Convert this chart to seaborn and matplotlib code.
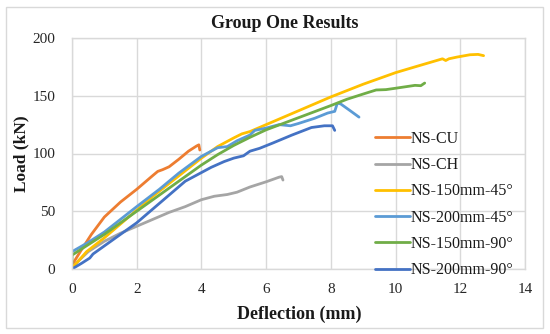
import numpy as np
import pandas as pd
import seaborn as sns
import matplotlib.pyplot as plt
from matplotlib.patches import Rectangle

# deflection (mm) / load (kN)
cu_d = [0, 0.1, 0.3, 0.6, 1.0, 1.5, 2.0, 2.5, 2.65, 2.8, 3.0, 3.3, 3.6, 3.85, 3.92, 3.95]
cu_l = [3, 8, 17, 30, 45, 58, 69, 81, 84.5, 86, 88.5, 95, 102, 106.5, 107.5, 103]

ch_d = [0, 0.2, 0.5, 1.0, 1.5, 2.0, 2.5, 3.0, 3.5, 4.0, 4.4, 4.8, 5.1, 5.5, 6.0, 6.4, 6.48, 6.52]
ch_l = [1, 7, 15, 24, 31, 37, 43, 49, 54, 60, 63, 64.5, 66.5, 71, 75.5, 79.5, 80, 77]

y45_d = [0, 0.2, 0.45, 1.0, 1.5, 2.0, 2.5, 3.0, 3.5, 4.0, 4.5, 5.0, 5.25, 5.5, 6.0, 7.0, 8.0,
         9.0, 10.0, 10.6, 11.45, 11.55, 11.65, 11.9, 12.3, 12.55, 12.72]
y45_l = [1, 7, 15, 27, 39, 51, 63, 74, 85, 96, 106, 113.5, 117, 119, 125, 137, 149,
         160, 170, 175, 182, 180.5, 182, 183.5, 185.5, 185.8, 184.7]

b45_d = [0, 0.5, 1.0, 1.5, 2.0, 2.7, 3.3, 4.0, 4.5, 4.8, 5.1, 5.5, 5.65, 6.0, 6.4, 6.75,
         7.0, 7.5, 7.9, 8.12, 8.2, 8.3, 8.6, 8.87]
b45_l = [15, 23, 32, 43, 54, 69, 83, 97.5, 105, 106, 111, 116, 120, 122, 125, 124,
         126, 130.5, 135, 136.5, 143.5, 143, 137, 131.5]

g90_d = [0, 0, 0.5, 1.0, 1.5, 2.0, 2.5, 3.0, 3.5, 4.0, 4.5, 5.0, 5.5, 6.0, 7.0, 8.0,
         8.5, 9.0, 9.4, 9.7, 10.0, 10.6, 10.78, 10.9]
g90_l = [5, 12, 21, 30, 40, 50, 60, 70, 80, 90, 99, 107, 114, 120.5, 131, 141.5,
         147, 151.5, 155, 155.3, 156.5, 159, 158.7, 161]

d90_d = [0, 0.3, 0.55, 0.65, 1.0, 1.5, 2.0, 2.5, 3.0, 3.5, 3.9, 4.3, 4.7, 5.0, 5.3, 5.5,
         5.8, 6.2, 6.8, 7.4, 7.8, 8.05, 8.12]
d90_l = [0, 5, 9.5, 13, 20, 30, 40, 52, 64, 76, 82, 88, 93, 96, 98, 102,
         104.5, 109, 116, 122.5, 124, 124, 120]

names = ["NS-CU", "NS-CH", "NS-150mm-45°", "NS-200mm-45°", "NS-150mm-90°", "NS-200mm-90°"]
colors = ["#ED7D31", "#A5A5A5", "#FFC000", "#5B9BD5", "#70AD47", "#4472C4"]
series = [(cu_d, cu_l), (ch_d, ch_l), (y45_d, y45_l), (b45_d, b45_l), (g90_d, g90_l), (d90_d, d90_l)]

frames = []
for name, (d, l) in zip(names, series):
    f = pd.DataFrame({"Deflection": d, "Load": l})
    f["Specimen"] = name
    frames.append(f)
df = pd.concat(frames, ignore_index=True)

sns.set_theme(style="white")
plt.rcParams["font.family"] = ["Liberation Serif", "DejaVu Serif"]

fig = plt.figure(figsize=(5.5, 3.34), dpi=100)
ax = fig.add_axes([72 / 550, 1 - 269 / 334, 453 / 550, 231 / 334])

sns.lineplot(data=df, x="Deflection", y="Load", hue="Specimen", hue_order=names,
             palette=colors, sort=False, estimator=None, units="Specimen",
             linewidth=2.0, ax=ax)

ax.set_xlim(0, 14)
ax.set_ylim(0, 200)
ax.set_xticks(range(0, 15, 2))
ax.set_yticks(range(0, 201, 50))
ax.grid(True, color="#d9d9d9", linewidth=1.0)
ax.set_axisbelow(True)
for s in ax.spines.values():
    s.set_color("#d9d9d9")
    s.set_linewidth(1.0)
ax.tick_params(axis="both", length=0, labelsize=11, colors="#262626")
ax.tick_params(axis="x", pad=10)
ax.tick_params(axis="y", pad=12)

ax.set_xlabel("Deflection (mm)", fontsize=13, fontweight="bold", color="#1a1a1a")
ax.set_ylabel("Load (kN)", fontsize=12.5, fontweight="bold", color="#1a1a1a")
ax.xaxis.set_label_coords((299 - 72) / 453, (269 - 306) / 231)
ax.yaxis.set_label_coords((29 - 72) / 453, 0.5)
fig.text(0.518, 1 - 24 / 334, "Group One Results", ha="center", va="center",
         fontsize=13, fontweight="bold", color="#1a1a1a")

leg = ax.legend(loc="upper left", bbox_to_anchor=(375 / 550, 1 - 131 / 334),
                bbox_transform=fig.transFigure, frameon=False, fontsize=11.5,
                handlelength=2.2, handletextpad=0.0, labelspacing=0.64, borderpad=0,
                borderaxespad=0)
for h in leg.get_lines():
    h.set_linewidth(2.0)
for t in leg.get_texts():
    t.set_color("#1a1a1a")

fig.patches.append(Rectangle((6 / 550, 6 / 334), 537 / 550, 321 / 334, transform=fig.transFigure,
                             fill=False, edgecolor="#d9d9d9", linewidth=1.0))

fig.savefig("out.png", dpi=100)
